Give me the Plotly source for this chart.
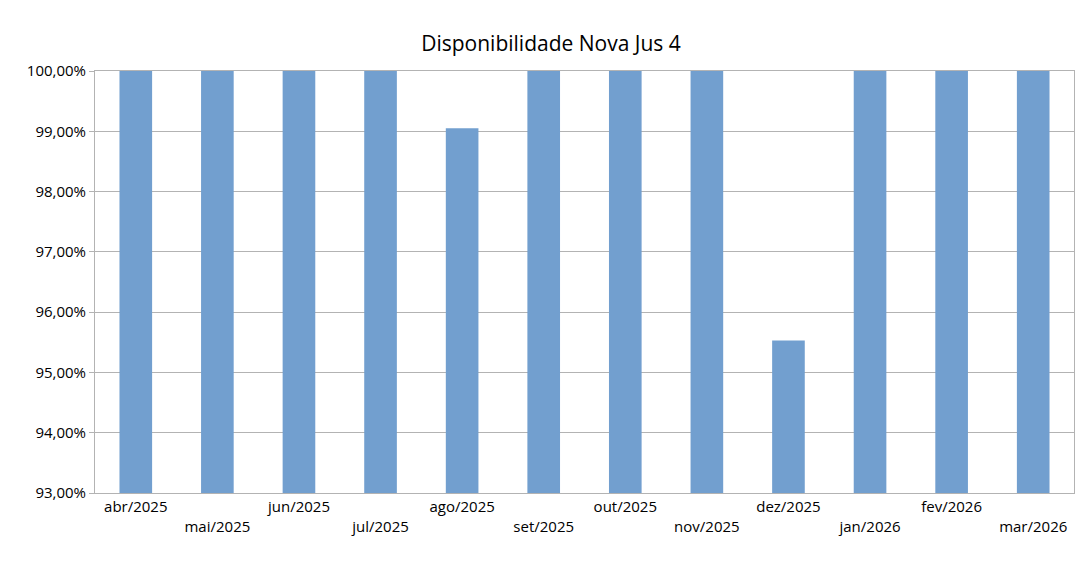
import plotly.graph_objects as go

months = ["abr/2025","mai/2025","jun/2025","jul/2025","ago/2025","set/2025",
          "out/2025","nov/2025","dez/2025","jan/2026","fev/2026","mar/2026"]
availability = [100.0,100.0,100.0,100.0,99.05,100.0,100.0,100.0,95.53,100.0,100.0,100.0]

ticktext = [m if i % 2 == 0 else "<br>" + m for i, m in enumerate(months)]
yticks = [93,94,95,96,97,98,99,100]

fig = go.Figure(go.Bar(x=months, y=availability, marker_color="#729fcf",
                       marker_line_width=0, width=0.4))
fig.update_layout(
    width=1086, height=561, plot_bgcolor="white", paper_bgcolor="white",
    margin=dict(l=87, r=20, t=63, b=76),
    title=dict(text="Disponibilidade Nova Jus 4", x=0.5, y=0.95,
               font=dict(family="Open Sans", size=21, color="black")),
    font=dict(family="Open Sans", size=15, color="black"),
    showlegend=False,
)
fig.update_xaxes(tickvals=months, ticktext=ticktext, showline=True,
                 linecolor="#b3b3b3", mirror=True, ticks="", tickangle=0,
                 automargin=False)
fig.update_yaxes(range=[93, 100], tickvals=yticks,
                 ticktext=[f"{v},00%" for v in yticks], gridcolor="#b3b3b3",
                 showline=True, linecolor="#b3b3b3", mirror=True,
                 ticks="outside", ticklen=5, tickcolor="#b3b3b3",
                 automargin=False)
fig.write_html("out.html")
